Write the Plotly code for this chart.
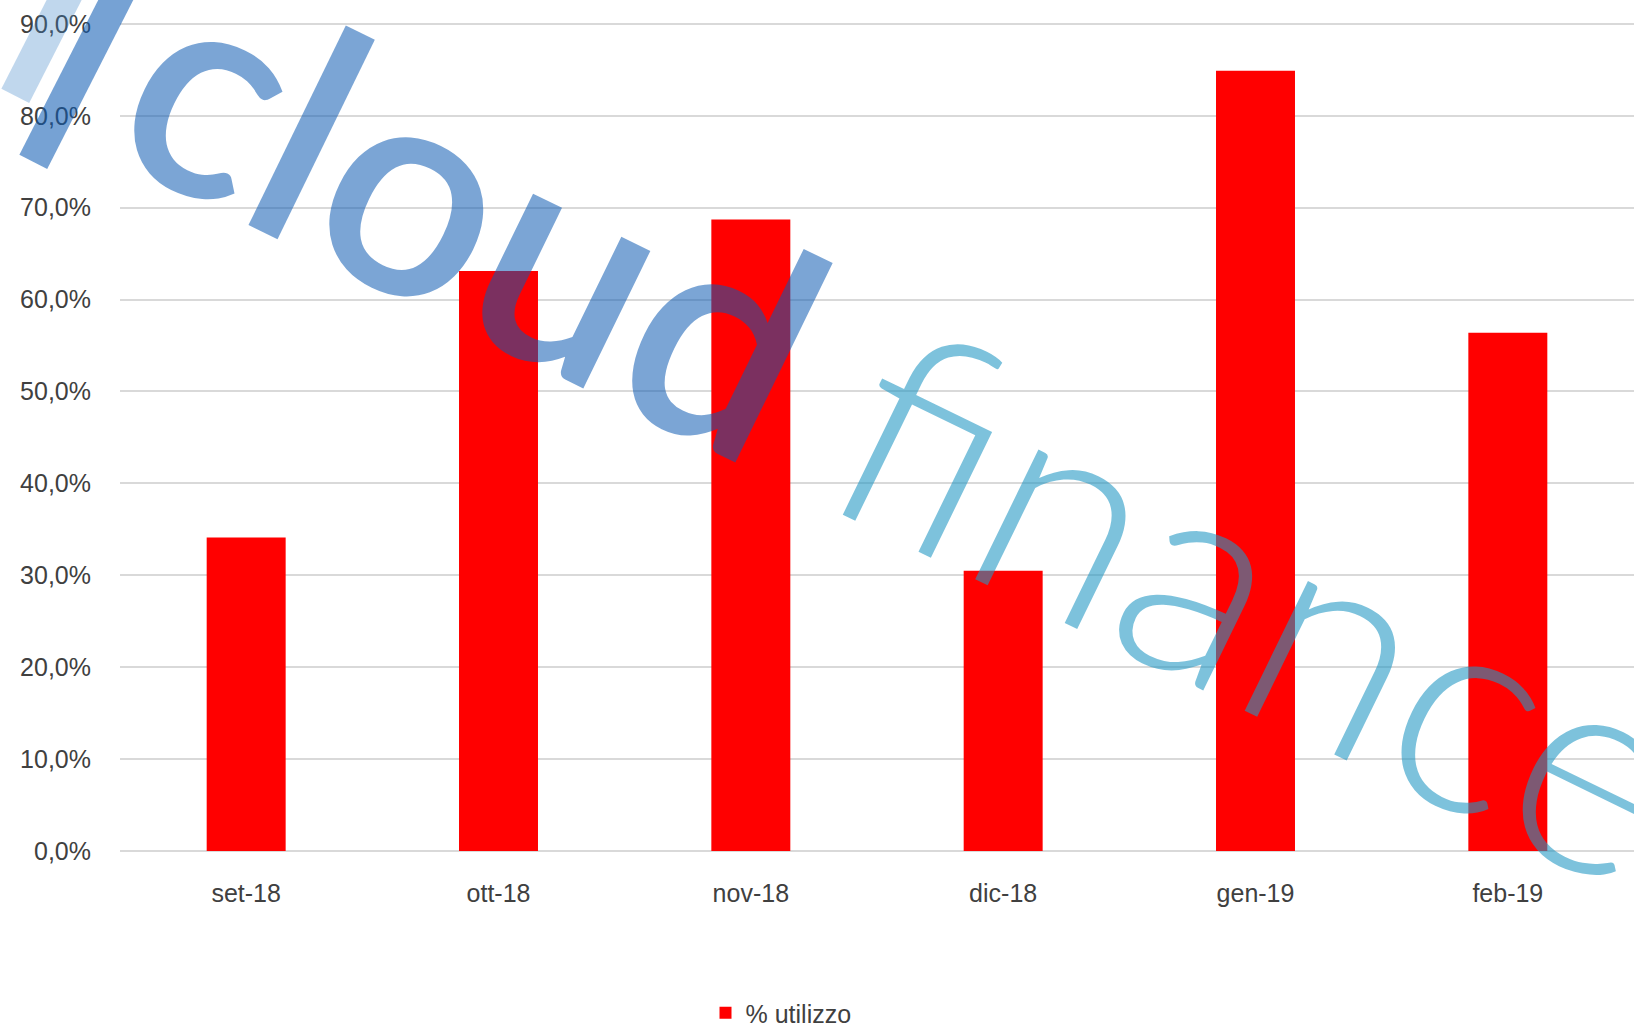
import plotly.graph_objects as go

months = ["set-18", "ott-18", "nov-18", "dic-18", "gen-19", "feb-19"]
utilizzo = [0.341, 0.631, 0.687, 0.305, 0.849, 0.564]
series_name = "% utilizzo"
y_ticks = [0.0, 0.1, 0.2, 0.3, 0.4, 0.5, 0.6, 0.7, 0.8, 0.9]

W, H = 1634, 1030
ML, MR, MT, MB = 120, 0, 22, 179
PW, PH = W - ML - MR, H - MT - MB


def paper(xpx, ypx):
    return (xpx - ML) / PW, (H - MB - ypx) / PH


fig = go.Figure()
fig.add_trace(go.Bar(
    x=months, y=utilizzo, name=series_name,
    marker=dict(color="#ff0000", line=dict(width=0)),
    showlegend=True,
))

# watermark (cloud finance logo)
wm = []
for txt, (px, py), size, weight, color, ang in [
    ("l", (66, -4), 290, 600, "rgba(60,130,200,0.32)", 27),
    ("l", (84, 62), 290, 600, "rgba(11,89,178,0.56)", 27),
    ("cloud", (478, 208), 300, 600, "rgba(11,89,178,0.54)", 26),
    ("finance", (1267, 597), 290, 300, "rgba(34,152,195,0.59)", 26),
]:
    xp, yp = paper(px, py)
    wm.append(dict(
        text=txt, x=xp, y=yp, xref="paper", yref="paper",
        xanchor="center", yanchor="middle", showarrow=False,
        textangle=ang,
        font=dict(family="Lato", size=size, color=color, weight=weight),
    ))

lx, ly = paper(781, 1013)
fig.update_layout(
    width=W, height=H,
    margin=dict(l=ML, r=MR, t=MT, b=MB, pad=0, autoexpand=False),
    paper_bgcolor="white", plot_bgcolor="white",
    separators=",.",
    font=dict(family="Liberation Sans, Arial, sans-serif", size=25, color="#404040"),
    bargap=0.687,
    xaxis=dict(showgrid=False, showline=False, ticks="", ticklabelstandoff=25,
               automargin=False, tickfont=dict(size=25, color="#404040")),
    yaxis=dict(range=[0, 0.902], tickvals=y_ticks, tickformat=".1%",
               showgrid=True, gridcolor="#d9d9d9", gridwidth=1.5,
               zeroline=True, zerolinecolor="#d9d9d9", zerolinewidth=1.5,
               showline=False, ticks="", ticklabelstandoff=28, automargin=False,
               tickfont=dict(size=25, color="#404040")),
    legend=dict(orientation="h", x=lx, y=ly, xanchor="center", yanchor="middle",
                font=dict(size=25, color="#404040"), itemwidth=30),
    annotations=wm,
    showlegend=True,
)

fig.write_html("out.html", config={"displayModeBar": False},
               post_script="document.body.style.margin='0';")
